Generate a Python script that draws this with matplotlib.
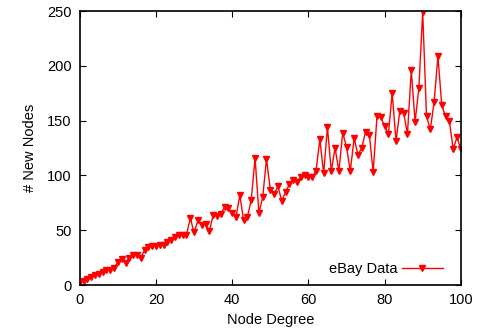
import numpy as np
import matplotlib
matplotlib.use("Agg")
import matplotlib.pyplot as plt

plt.rcParams['font.family'] = ['Liberation Sans', 'DejaVu Sans']

degree = np.arange(0, 101)
new_nodes = [3, 4, 6, 7, 9, 10, 12, 14, 14, 16,
             21, 24, 20, 25, 27, 27, 25, 32, 35, 36,
             36, 37, 37, 39, 41, 44, 46, 46, 46, 61,
             48, 59, 55, 56, 49, 64, 63, 65, 71, 70,
             66, 62, 82, 59, 62, 78, 116, 66, 80, 115,
             87, 83, 90, 77, 85, 92, 96, 94, 99, 100,
             99, 99, 104, 133, 102, 144, 104, 125, 104, 139,
             126, 104, 134, 119, 125, 140, 137, 103, 154, 153,
             145, 138, 175, 131, 159, 157, 138, 196, 149, 180,
             249, 154, 142, 167, 209, 164, 154, 150, 124, 135,
             124]

fig = plt.figure(figsize=(4.78, 3.35), dpi=100)
ax = fig.add_axes([0.167, 0.149, 0.797, 0.818])

ax.plot(degree, new_nodes, color="#ff0000", lw=1.0, marker="v",
        markersize=4, label="eBay Data")

ax.set_xlim(0, 100)
ax.set_ylim(0, 250)
ax.set_xticks([0, 20, 40, 60, 80, 100])
ax.set_yticks([0, 50, 100, 150, 200, 250])
ax.tick_params(direction="in", top=True, right=True, length=4, labelsize=10.5, pad=6)
for s in ax.spines.values():
    s.set_linewidth(1.2)

ax.set_xlabel("Node Degree", fontsize=10.5, labelpad=4)
ax.set_ylabel("# New Nodes", fontsize=10.5, labelpad=7)

ax.legend(loc="lower right", frameon=False, markerfirst=False, fontsize=10.5,
          handlelength=2.8, handletextpad=0.3, borderaxespad=0.2,
          bbox_to_anchor=(0.975, 0.0))

fig.savefig("out.png", dpi=100)
